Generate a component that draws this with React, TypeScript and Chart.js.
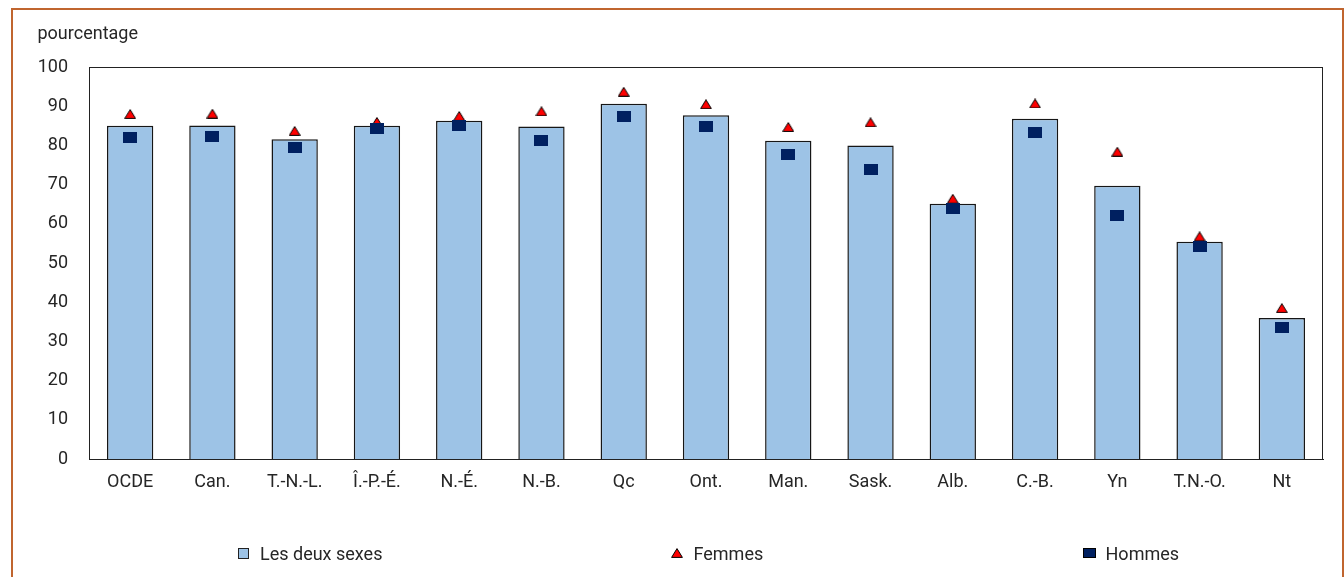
import React, { useEffect, useRef } from "react";
import { Chart, registerables } from "chart.js";

Chart.register(...registerables);

const categories = ["OCDE", "Can.", "T.-N.-L.", "Î.-P.-É.", "N.-É.", "N.-B.", "Qc", "Ont.", "Man.", "Sask.", "Alb.", "C.-B.", "Yn", "T.N.-O.", "Nt"];
const bothSexes = [85.0, 85.1, 81.6, 85.0, 86.3, 84.8, 90.6, 87.7, 81.2, 80.0, 65.1, 86.8, 69.7, 55.4, 36.0];
const women = [88.0, 88.1, 83.7, 86.0, 87.5, 88.7, 93.7, 90.5, 84.7, 85.9, 66.4, 90.7, 78.4, 56.8, 38.5];
const men = [82.1, 82.3, 79.5, 84.4, 85.1, 81.3, 87.4, 84.8, 77.7, 73.9, 63.9, 83.3, 62.1, 54.2, 33.5];
const seriesLabels = ["Les deux sexes", "Femmes", "Hommes"];
const yTitle = "pourcentage";

const FONT = 'Roboto, "Liberation Sans", sans-serif';
const FONT_SIZE = 18;
const TEXT = "#262626";
const BAR_FILL = "#9DC3E6";
const BAR_BORDER = "#161616";
const RED = "#FF0000";
const NAVY = "#002060";

function makeTriangle(w: number, h: number) {
  const c = document.createElement("canvas");
  c.width = w;
  c.height = h;
  const ctx = c.getContext("2d")!;
  ctx.beginPath();
  ctx.moveTo(w / 2, 0.6);
  ctx.lineTo(w - 0.6, h - 0.6);
  ctx.lineTo(0.6, h - 0.6);
  ctx.closePath();
  ctx.fillStyle = RED;
  ctx.fill();
  ctx.lineWidth = 1;
  ctx.strokeStyle = "#000";
  ctx.stroke();
  return c;
}

function makeRect(w: number, h: number, fill: string, border?: string) {
  const c = document.createElement("canvas");
  c.width = w;
  c.height = h;
  const ctx = c.getContext("2d")!;
  ctx.fillStyle = fill;
  ctx.fillRect(0, 0, w, h);
  if (border) {
    ctx.strokeStyle = border;
    ctx.lineWidth = 1;
    ctx.strokeRect(0.5, 0.5, w - 1, h - 1);
  }
  return c;
}

export default function App() {
  const ref = useRef<HTMLCanvasElement | null>(null);

  useEffect(() => {
    document.body.style.overflow = "hidden";
    const canvas = ref.current;
    if (!canvas) return;

    const triPoint = makeTriangle(12, 10);
    const sqPoint = makeRect(14, 11, NAVY);
    const legendMarkers = [
      makeRect(11, 11, BAR_FILL, "#222"),
      makeTriangle(12, 10),
      makeRect(13, 10, NAVY, "#000"),
    ];
    const legendCenters = [0.1252, 0.4765, 0.8104];

    const framePlugin = {
      id: "frame",
      beforeDatasetsDraw(chart: any) {
        const { ctx, chartArea: a } = chart;
        ctx.save();
        ctx.strokeStyle = "#222";
        ctx.lineWidth = 1;
        ctx.strokeRect(Math.round(a.left) + 0.5, Math.round(a.top) + 0.5, Math.round(a.right - a.left) - 1, Math.round(a.bottom - a.top));
        ctx.restore();
      },
      afterDraw(chart: any) {
        const { ctx, chartArea: a } = chart;
        ctx.save();
        ctx.fillStyle = TEXT;
        ctx.font = `${FONT_SIZE}px ${FONT}`;
        ctx.textAlign = "left";
        ctx.textBaseline = "alphabetic";
        ctx.fillText(yTitle, a.left - 51.5, 39);
        const w = a.right - a.left;
        const legendY = a.bottom + 94;
        seriesLabels.forEach((lab, i) => {
          const cx = a.left + legendCenters[i] * w;
          const m = legendMarkers[i];
          ctx.drawImage(m, Math.round(cx - m.width / 2), Math.round(legendY - m.height / 2));
          ctx.fillText(lab, cx + 16.5, legendY + 6.5);
        });
        ctx.restore();
      },
    };

    const chart = new Chart(canvas, {
      type: "bar",
      data: {
        labels: categories,
        datasets: [
          {
            type: "bar",
            label: seriesLabels[0],
            data: bothSexes,
            backgroundColor: BAR_FILL,
            borderColor: BAR_BORDER,
            borderWidth: 1.5,
            barPercentage: 0.563,
            categoryPercentage: 1,
            order: 3,
          },
          {
            type: "line",
            label: seriesLabels[1],
            data: women,
            showLine: false,
            pointStyle: triPoint as any,
            pointRadius: 6,
            pointHoverRadius: 6,
            order: 2,
          },
          {
            type: "line",
            label: seriesLabels[2],
            data: men,
            showLine: false,
            pointStyle: sqPoint as any,
            pointRadius: 7,
            pointHoverRadius: 7,
            order: 1,
          },
        ] as any,
      },
      options: {
        responsive: false,
        animation: false,
        events: [],
        layout: { padding: { left: 20, top: 67, right: 21, bottom: 58 } },
        plugins: {
          legend: { display: false },
          tooltip: { enabled: false },
          title: { display: false },
        },
        scales: {
          x: {
            grid: { display: false, drawTicks: false },
            border: { display: true, color: "#222", width: 1 },
            ticks: { color: TEXT, font: { family: FONT, size: FONT_SIZE }, padding: 13, maxRotation: 0, autoSkip: false },
            afterFit(scale: any) {
              scale.height = 60;
            },
          },
          y: {
            min: 0,
            max: 100,
            grid: { display: false, drawTicks: false },
            border: { display: true, color: "#222", width: 1 },
            ticks: { stepSize: 10, color: TEXT, font: { family: FONT, size: FONT_SIZE }, padding: 21 },
            afterFit(scale: any) {
              scale.width = 69;
            },
          },
        },
      },
      plugins: [framePlugin],
    });

    return () => chart.destroy();
  }, []);

  return (
    <div>
      <div
        style={{
          position: "absolute",
          left: 11,
          top: 8,
          width: 1333,
          height: 620,
          boxSizing: "border-box",
          border: "2px solid #C0652F",
        }}
      />
      <canvas
        ref={ref}
        width={1344}
        height={577}
        style={{ position: "absolute", left: 0, top: 0, width: 1344, height: 577 }}
      />
    </div>
  );
}
